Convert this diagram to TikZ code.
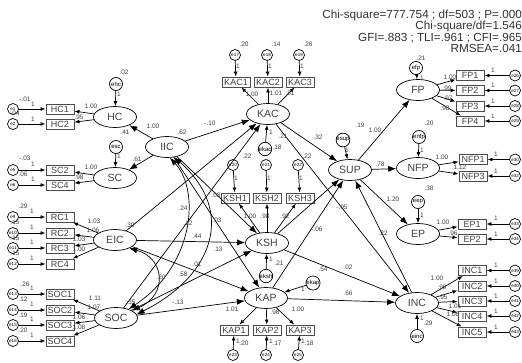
\documentclass[tikz,border=0pt]{standalone}
\usepackage{fontspec}
\setmainfont{Liberation Sans}
\usetikzlibrary{arrows.meta,shapes.geometric}
\newcounter{lc}
\newcommand\lbl[3]{\stepcounter{lc}\node[lab] (lab\arabic{lc}) at (#1,#2) {#3};}
\newcommand\ebox[3]{\node[ind] (#1) at (#2,#3) {#1};}
\newcommand\eci[4]{\node[err] (#1) at (#2,#3) {#4};}
\tikzset{
  lat/.style={ellipse,draw,line width=0.7pt,minimum width=43pt,minimum height=21pt,inner sep=0pt,font=\fontsize{10.5}{11}\selectfont,text=black!75},
  ind/.style={rectangle,draw=black!70,line width=0.9pt,minimum width=28pt,minimum height=10pt,inner sep=0pt,font=\fontsize{9}{9}\selectfont,text=black!75},
  err/.style={circle,draw,line width=0.7pt,minimum size=11pt,inner sep=0pt,font=\fontsize{4.5}{5}\selectfont},
  res/.style={circle,draw,line width=0.7pt,minimum size=13pt,inner sep=0pt,font=\fontsize{6}{6}\selectfont},
  lab/.style={inner sep=0pt,font=\fontsize{6.5}{7}\selectfont,text=black!75},
  fit/.style={inner sep=0pt,anchor=north east,align=right,font=\fontsize{11.7}{11.2}\selectfont,text=black!80},
  ms/.style={-{Latex[length=5pt,width=3.8pt]},line width=0.7pt},
  st/.style={-{Latex[length=8pt,width=6pt]},line width=0.7pt},
  cov/.style={{Latex[length=8pt,width=6pt]}-{Latex[length=8pt,width=6pt]},line width=0.7pt},
}
\begin{document}
\begin{tikzpicture}[x=1pt,y=-1pt]
\useasboundingbox (0,0) rectangle (522,362);
% fit indices
\node[fit] (fitidx) at (522,10) {Chi-square=777.754 ; df=503 ; P=.000\\Chi-square/df=1.546\\GFI=.883 ; TLI=.961 ; CFI=.965\\RMSEA=.041};
% latent variables
\node[lat] (HC) at (115,117) {HC};
\node[lat] (SC) at (115,178) {SC};
\node[lat] (IIC) at (167,147) {IIC};
\node[lat] (EIC) at (115,240) {EIC};
\node[lat] (SOC) at (116,318) {SOC};
\node[lat] (KAC) at (268,114) {KAC};
\node[lat] (KSH) at (267,243) {KSH};
\node[lat] (KAP) at (266,298) {KAP};
\node[lat] (SUP) at (350,170) {SUP};
\node[lat] (FP) at (418,90) {FP};
\node[lat] (NFP) at (418,168) {NFP};
\node[lat] (EP) at (418,234) {EP};
\node[lat] (INC) at (417,303) {INC};
% residuals
\node[res] (ehc) at (116,84) {ehc};
\node[res] (esc) at (116,147) {esc};
\node[res] (ekac) at (265,149) {ekac};
\node[res] (eksh) at (266,276) {eksh};
\node[res] (ekap) at (313,283) {ekap};
\node[res] (esup) at (343,140) {esup};
\node[res] (efp) at (416,68) {efp};
\node[res] (enfp) at (419,137) {enfp};
\node[res] (eep) at (418,202) {eep};
\node[res] (einc) at (417,336) {einc};
% indicators left
\ebox{HC1}{60}{109} \ebox{HC2}{60}{124}
\ebox{SC2}{60}{170} \ebox{SC4}{60}{185}
\ebox{RC1}{60}{217} \ebox{RC2}{60}{233} \ebox{RC3}{60}{248} \ebox{RC4}{60}{264}
\ebox{SOC1}{60}{294} \ebox{SOC2}{60}{310} \ebox{SOC3}{60}{325} \ebox{SOC4}{60}{341}
% indicators middle
\ebox{KAC1}{236}{82} \ebox{KAC2}{268}{82} \ebox{KAC3}{300}{82}
\ebox{KSH1}{235}{198} \ebox{KSH2}{267}{198} \ebox{KSH3}{300}{198}
\ebox{KAP1}{234}{330} \ebox{KAP2}{267}{330} \ebox{KAP3}{300}{330}
% indicators right
\ebox{FP1}{470}{75.5} \ebox{FP2}{470}{90.5} \ebox{FP3}{470}{106} \ebox{FP4}{470}{121}
\ebox{NFP1}{473}{159.5} \ebox{NFP3}{473}{176}
\ebox{EP1}{472}{224} \ebox{EP2}{472}{239}
\ebox{INC1}{472}{270.5} \ebox{INC2}{472}{286} \ebox{INC3}{472}{301} \ebox{INC4}{472}{316} \ebox{INC5}{472}{332}
% error circles
\eci{eHC1}{13}{109}{e1} \eci{eHC2}{13}{124}{e2}
\eci{eSC2}{13}{170}{e5} \eci{eSC4}{13}{185}{e6}
\eci{eRC1}{13}{217}{e9} \eci{eRC2}{13}{233}{e10} \eci{eRC3}{13}{248}{e11} \eci{eRC4}{13}{264}{e12}
\eci{eSOC1}{13}{294}{e13} \eci{eSOC2}{13}{310}{e14} \eci{eSOC3}{13}{325}{e15} \eci{eSOC4}{13}{341}{e16}
\eci{eKAC1}{235}{55}{e17} \eci{eKAC2}{267}{55}{e18} \eci{eKAC3}{299}{55}{e19}
\eci{eKSH1}{233}{165}{e20} \eci{eKSH2}{266}{165}{e21} \eci{eKSH3}{298}{165}{e22}
\eci{eKAP1}{233}{355}{e23} \eci{eKAP2}{266}{355}{e24} \eci{eKAP3}{298}{355}{e25}
\eci{eFP1}{515}{75.5}{e26} \eci{eFP2}{515}{90.5}{e27} \eci{eFP3}{515}{106}{e28} \eci{eFP4}{515}{121}{e29}
\eci{eNFP1}{515}{159.5}{e30} \eci{eNFP3}{515}{176}{e32}
\eci{eEP1}{515}{224}{e33} \eci{eEP2}{515}{239}{e34}
\eci{eINC1}{515}{270.5}{e39} \eci{eINC2}{515}{286}{e40} \eci{eINC3}{515}{301}{e41} \eci{eINC4}{515}{316}{e42} \eci{eINC5}{515}{332}{e43}
% measurement arrows
\foreach \l/\bs in {HC/{HC1,HC2},SC/{SC2,SC4},EIC/{RC1,RC2,RC3,RC4},SOC/{SOC1,SOC2,SOC3,SOC4},KAC/{KAC1,KAC2,KAC3},KSH/{KSH1,KSH2,KSH3},KAP/{KAP1,KAP2,KAP3},FP/{FP1,FP2,FP3,FP4},NFP/{NFP1,NFP3},EP/{EP1,EP2},INC/{INC1,INC2,INC3,INC4,INC5}}{
  \foreach \b in \bs {\draw[ms] (\l) -- (\b); \draw[ms] (e\b) -- (\b);}
}
% residual arrows
\foreach \r/\l in {ehc/HC,esc/SC,ekac/KAC,eksh/KSH,ekap/KAP,esup/SUP,efp/FP,enfp/NFP,eep/EP,einc/INC}{\draw[ms] (\r) -- (\l);}
% structural paths
\draw[st] (IIC) -- (HC);
\draw[st] (IIC) -- (SC);
\foreach \s in {IIC,EIC,SOC}{\foreach \t in {KAC,KSH,KAP}{\draw[st] (\s) -- (\t);}}
\foreach \s in {KAC,KSH,KAP}{\draw[st] (\s) -- (SUP);}
\draw[st] (KAC) -- (INC);
\draw[st] (KSH) -- (INC);
\draw[st] (KAP) -- (INC);
\draw[st] (INC) -- (SUP);
\draw[st] (SUP) -- (FP);
\draw[st] (SUP) -- (NFP);
\draw[st] (SUP) -- (EP);
% covariances
\draw[cov] (EIC.-30) .. controls (165,258) and (168,295) .. (SOC.25);
\draw[cov] (IIC.-75) .. controls (200,190) and (195,265) .. (SOC.35);
\draw[cov] (IIC.-55) .. controls (235,210) and (215,275) .. (SOC.10);
% left labels
\lbl{25}{99}{-.01}\lbl{33}{104}{1}\lbl{15}{113}{.04}\lbl{33}{119}{1}
\lbl{25}{158}{-.03}\lbl{33}{164}{1}\lbl{23}{174}{.06}\lbl{33}{179}{1}
\lbl{23}{206}{.29}\lbl{32}{211}{1}\lbl{15}{222}{.15}\lbl{32}{227}{1}
\lbl{15}{238}{.15}\lbl{32}{242}{1}\lbl{15}{253}{.15}\lbl{32}{258}{1}
\lbl{25}{284}{.26}\lbl{32}{288}{1}\lbl{23}{299}{.12}\lbl{32}{304}{1}
\lbl{23}{315}{.19}\lbl{32}{319}{1}\lbl{23}{330}{.20}\lbl{32}{335}{1}
\lbl{91}{106}{1.00}\lbl{79}{117}{.95}\lbl{91}{167}{1.00}\lbl{79}{177}{.98}
\lbl{94}{221}{1.03}\lbl{93}{230}{1.06}\lbl{79}{239}{1.03}\lbl{79}{249}{1.00}
\lbl{95}{298}{1.11}\lbl{94}{307}{1.07}\lbl{79}{317}{1.06}\lbl{79}{327}{1.08}
% structural labels left
\lbl{124}{72}{.02}\lbl{119}{94}{1}\lbl{153}{126}{1.00}\lbl{125}{132}{.41}
\lbl{119}{156}{1}\lbl{137}{159}{.61}\lbl{182}{132}{.62}\lbl{210}{123}{-.10}
\lbl{130}{225}{.30}\lbl{131}{302}{.35}
\lbl{183}{208}{.24}\lbl{188}{223}{.12}\lbl{217}{220}{.03}\lbl{216}{195}{.08}
\lbl{197}{236}{.44}\lbl{218}{249}{.13}\lbl{197}{264}{.01}\lbl{183}{274}{.58}
\lbl{178}{302}{-.13}\lbl{161}{277}{.20}
% KAC block
\lbl{244}{44}{.20}\lbl{276}{44}{.14}\lbl{308}{44}{.26}
\lbl{238}{66}{1}\lbl{270}{66}{1}\lbl{302}{66}{1}
\lbl{252}{94}{1.00}\lbl{276}{93}{1.01}\lbl{290}{93}{.81}
\lbl{271}{132}{1}\lbl{283}{136}{.21}
% KSH block
\lbl{247}{156}{.22}\lbl{277}{147}{.18}\lbl{307}{156}{.22}
\lbl{236}{178}{1}\lbl{269}{178}{1}\lbl{301}{178}{1}
\lbl{250}{216}{1.00}\lbl{265}{216}{.98}\lbl{285}{216}{.92}
\lbl{271}{259}{1}\lbl{279}{263}{.21}
% KAP block
\lbl{303}{289}{1}
\lbl{232}{309}{1.01}\lbl{275}{312}{.98}\lbl{298}{309}{1.00}
\lbl{238}{341}{1}\lbl{244}{343}{.20}\lbl{271}{341}{1}\lbl{277}{343}{.17}\lbl{303}{341}{1}\lbl{309}{343}{.18}
% structural labels right
\lbl{318}{137}{.32}\lbl{317}{229}{-.06}\lbl{323}{269}{.54}\lbl{348}{267}{.02}
\lbl{348}{293}{.66}\lbl{342}{207}{-.05}\lbl{383}{233}{.22}
\lbl{360}{125}{.19}\lbl{347}{150}{1}
\lbl{375}{130}{1.00}\lbl{380}{164}{.78}\lbl{393}{199}{1.20}
% FP
\lbl{421}{58}{.21}\lbl{422}{78}{1}
\lbl{450}{77}{1.00}\lbl{447}{88}{.99}\lbl{448}{98}{.97}\lbl{445}{108}{.98}
\lbl{493}{70}{1}\lbl{493}{85}{1}\lbl{493}{101}{1}\lbl{493}{116}{1}
% NFP
\lbl{429}{123}{.20}\lbl{422}{150}{1}
\lbl{442}{157}{1.00}\lbl{460}{167}{1.12}
\lbl{496}{154}{1}\lbl{496}{171}{1}
% EP
\lbl{429}{188}{.38}\lbl{422}{215}{1}
\lbl{443}{222}{1.00}\lbl{453}{233}{.96}
\lbl{496}{218}{1}\lbl{496}{234}{1}
% INC
\lbl{422}{318}{1}\lbl{428}{323}{.29}
\lbl{437}{278}{1.00}\lbl{442}{287}{.99}\lbl{443}{297}{.95}\lbl{455}{306}{1.01}\lbl{453}{314}{1.08}
\lbl{496}{265}{1}\lbl{496}{281}{1}\lbl{496}{296}{1}\lbl{496}{311}{1}\lbl{496}{327}{1}
\end{tikzpicture}
\end{document}
